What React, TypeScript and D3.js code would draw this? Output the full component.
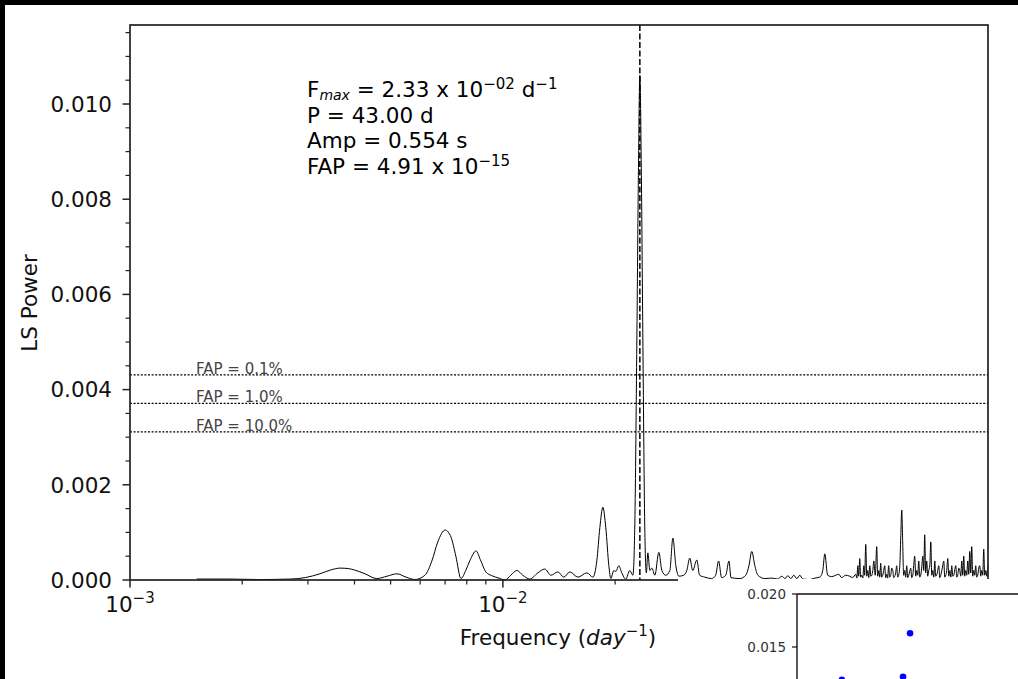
import React from 'react';
import * as d3 from 'd3';

const W = 1018;
const H = 679;

// Lomb-Scargle spectrum: frequency (1/day) and power
const specFreq = [
  0.00151, 0.00185, 0.00223, 0.00269, 0.00295, 0.00323, 0.00345, 0.00366, 0.00385, 0.00400,
  0.00427, 0.00459, 0.00489, 0.00520, 0.00550, 0.00581, 0.00618, 0.00645, 0.00669, 0.00700,
  0.00726, 0.00748, 0.00772, 0.00795, 0.00815, 0.00847, 0.00873, 0.00900, 0.00934, 0.00976,
  0.01012, 0.01050, 0.01090, 0.01131, 0.01181, 0.01241, 0.01296, 0.01345, 0.01404, 0.01457,
  0.01512, 0.01589, 0.01680, 0.01743, 0.01786, 0.01820, 0.01854, 0.01888, 0.01924, 0.01948,
  0.01984, 0.02009, 0.02046, 0.02084, 0.02136, 0.02190, 0.02232, 0.02259, 0.02287, 0.02309,
  0.02330, 0.02352, 0.02374, 0.02403, 0.02425, 0.02448, 0.02478, 0.02509, 0.02556, 0.02620,
  0.02669, 0.02735, 0.02804, 0.02857, 0.02910, 0.02966, 0.03056, 0.03113, 0.03171, 0.03230,
  0.03312, 0.03370, 0.03480, 0.03630, 0.03720, 0.03790, 0.03860, 0.03960, 0.04040, 0.04090,
  0.04320, 0.04480, 0.04570, 0.04650, 0.04740, 0.04830, 0.05040, 0.05260, 0.05460, 0.05600,
  0.05710, 0.05810, 0.05920, 0.06030, 0.06140, 0.06260, 0.06370, 0.06650, 0.06860, 0.07080,
  0.07210, 0.07300, 0.07430, 0.07620, 0.07810, 0.07960, 0.08100, 0.08300, 0.08510, 0.08670,
];
const specPower = [
  0.00002, 0.00002, 0.00001, 0.00002, 0.00005, 0.00013, 0.00021, 0.00025, 0.00024, 0.00021,
  0.00013, 0.00003, 0.00008, 0.00013, 0.00006, 0.00001, 0.00010, 0.00040, 0.00080, 0.00105,
  0.00090, 0.00050, 0.00003, 0.00020, 0.00040, 0.00061, 0.00040, 0.00017, 0.00009, 0.00004,
  0.00000, 0.00010, 0.00020, 0.00010, 0.00002, 0.00015, 0.00023, 0.00010, 0.00017, 0.00006,
  0.00017, 0.00006, 0.00015, 0.00006, 0.00040, 0.00110, 0.00153, 0.00110, 0.00030, 0.00003,
  0.00020, 0.00018, 0.00030, 0.00015, 0.00002, 0.00020, 0.00010, 0.00120, 0.00500, 0.00850,
  0.01060, 0.00850, 0.00500, 0.00100, 0.00015, 0.00057, 0.00020, 0.00025, 0.00010, 0.00058,
  0.00020, 0.00010, 0.00020, 0.00088, 0.00030, 0.00008, 0.00010, 0.00020, 0.00046, 0.00020,
  0.00042, 0.00010, 0.00006, 0.00003, 0.00010, 0.00040, 0.00005, 0.00010, 0.00040, 0.00005,
  0.00003, 0.00010, 0.00030, 0.00060, 0.00030, 0.00010, 0.00003, 0.00004, 0.00002, 0.00008,
  0.00003, 0.00009, 0.00003, 0.00010, 0.00003, 0.00010, 0.00002, 0.00001, 0.00004, 0.00006,
  0.00020, 0.00055, 0.00010, 0.00007, 0.00010, 0.00012, 0.00005, 0.00010, 0.00008, 0.00005,
];

// dense high-frequency part of the spectrum
const hfFreq = [
  0.08840, 0.08900, 0.08950, 0.09000, 0.09060, 0.09110, 0.09170, 0.09230, 0.09290, 0.09340,
  0.09400, 0.09460, 0.09520, 0.09580, 0.09640, 0.09700, 0.09760, 0.09820, 0.09880, 0.09970,
  0.10060, 0.10120, 0.10190, 0.10250, 0.10310, 0.10370, 0.10440, 0.10500, 0.10570, 0.10630,
  0.10700, 0.10760, 0.10830, 0.10900, 0.10970, 0.11040, 0.11110, 0.11170, 0.11240, 0.11310,
  0.11380, 0.11450, 0.11520, 0.11600, 0.11670, 0.11740, 0.11810, 0.11880, 0.11960, 0.12030,
  0.12110, 0.12180, 0.12260, 0.12330, 0.12410, 0.12490, 0.12570, 0.12640, 0.12720, 0.12800,
  0.12880, 0.12960, 0.13040, 0.13120, 0.13200, 0.13280, 0.13370, 0.13450, 0.13530, 0.13610,
  0.13700, 0.13780, 0.13870, 0.13960, 0.14050, 0.14130, 0.14220, 0.14310, 0.14400, 0.14480,
  0.14570, 0.14660, 0.14760, 0.14850, 0.14940, 0.15080, 0.15220, 0.15310, 0.15410, 0.15500,
  0.15600, 0.15700, 0.15800, 0.15900, 0.15990, 0.16090, 0.16190, 0.16290, 0.16390, 0.16490,
  0.16590, 0.16700, 0.16800, 0.16900, 0.17010, 0.17110, 0.17220, 0.17320, 0.17430, 0.17540,
  0.17650, 0.17760, 0.17870, 0.17980, 0.18090, 0.18200, 0.18320, 0.18430, 0.18540, 0.18650,
  0.18770, 0.18890, 0.19010, 0.19120, 0.19240, 0.19360, 0.19480, 0.19600, 0.19730, 0.19850,
  0.19970,
];
const hfPower = [
  0.00012, 0.00004, 0.00030, 0.00008, 0.00045, 0.00006, 0.00010, 0.00004, 0.00030, 0.00010,
  0.00075, 0.00008, 0.00020, 0.00005, 0.00030, 0.00008, 0.00010, 0.00020, 0.00040, 0.00010,
  0.00070, 0.00008, 0.00020, 0.00006, 0.00035, 0.00006, 0.00010, 0.00020, 0.00030, 0.00005,
  0.00012, 0.00004, 0.00030, 0.00006, 0.00010, 0.00025, 0.00020, 0.00005, 0.00008, 0.00015,
  0.00030, 0.00006, 0.00010, 0.00030, 0.00090, 0.00147, 0.00080, 0.00010, 0.00020, 0.00006,
  0.00030, 0.00005, 0.00010, 0.00018, 0.00025, 0.00005, 0.00010, 0.00030, 0.00050, 0.00008,
  0.00020, 0.00010, 0.00040, 0.00006, 0.00010, 0.00025, 0.00050, 0.00020, 0.00095, 0.00015,
  0.00040, 0.00008, 0.00020, 0.00030, 0.00080, 0.00010, 0.00020, 0.00006, 0.00040, 0.00008,
  0.00010, 0.00020, 0.00030, 0.00005, 0.00010, 0.00025, 0.00040, 0.00006, 0.00010, 0.00020,
  0.00045, 0.00008, 0.00020, 0.00006, 0.00030, 0.00008, 0.00010, 0.00022, 0.00030, 0.00006,
  0.00010, 0.00025, 0.00020, 0.00008, 0.00040, 0.00010, 0.00050, 0.00008, 0.00020, 0.00010,
  0.00040, 0.00012, 0.00060, 0.00015, 0.00070, 0.00008, 0.00020, 0.00010, 0.00030, 0.00006,
  0.00010, 0.00025, 0.00030, 0.00008, 0.00020, 0.00010, 0.00065, 0.00010, 0.00020, 0.00008,
  0.00030,
];

const yTicks = [0, 0.002, 0.004, 0.006, 0.008, 0.01];
const yTickLabels = ['0.000', '0.002', '0.004', '0.006', '0.008', '0.010'];
const xMajorExponents = [-3, -2, -1];
const xMajorLabels = ['−3', '−2', '−1'];
const fapLevels = [0.00431, 0.00371, 0.00311];
const fapLabels = ['FAP = 0.1%', 'FAP = 1.0%', 'FAP = 10.0%'];
const peakFreq = 0.0233;

// inset panel (partially visible)
const insetX = [0.102, 0.241, 0.257];
const insetY = [0.0119, 0.0122, 0.0163];
const insetTicks = [0.015, 0.02];
const insetTickLabels = ['0.015', '0.020'];

const FONT = 'DejaVu Sans, sans-serif';

export default function App() {
  const L = 130, T = 25, R = 988, B = 580;
  const x = d3.scaleLog().domain([0.001, 0.2]).range([L, R]);
  const y = d3.scaleLinear().domain([0, 0.01166]).range([B, T]);

  const pts: [number, number][] = specFreq
    .map((f, i) => [f, specPower[i]] as [number, number])
    .concat(hfFreq.map((f, i) => [f, hfPower[i]] as [number, number]));
  const line = d3
    .line<[number, number]>()
    .x((d) => x(d[0]))
    .y((d) => y(d[1]))
    .curve(d3.curveMonotoneX);

  const yMinor: number[] = d3.range(0, 0.0116, 0.0005).filter((v) => Math.abs(v / 0.002 - Math.round(v / 0.002)) > 1e-6);
  const xMinor: number[] = [];
  xMajorExponents.forEach((e) => {
    for (let k = 2; k <= 9; k++) {
      const v = k * Math.pow(10, e);
      if (v <= 0.2) xMinor.push(v);
    }
  });

  const ix = d3.scaleLinear().domain([0, 1]).range([797, 1237]);
  const iy = d3.scaleLinear().domain([0.015, 0.02]).range([647, 594]);

  const fs = 21.5;
  const textX = 307;
  const lineY = [97, 122.5, 148, 173.5];

  return (
    <svg width={W} height={H} style={{ position: 'absolute', left: 0, top: 0, display: 'block' }} fontFamily={FONT}>
      <rect x={0} y={0} width={W} height={H} fill="#000" />
      <rect x={5} y={5} width={W - 5} height={H - 5} fill="#fff" />

      {/* FAP levels */}
      {fapLevels.map((v, i) => (
        <g key={'fap' + i}>
          <line x1={L} x2={R} y1={y(v)} y2={y(v)} stroke="#000" strokeWidth={1.2} strokeDasharray="2,1.6" />
          <text x={196} y={y(v) - 1} fontSize={15} fill="#444">{fapLabels[i]}</text>
        </g>
      ))}

      {/* spectrum */}
      <path d={line(pts) || ''} fill="none" stroke="#000" strokeWidth={1} />

      {/* peak marker */}
      <line x1={x(peakFreq)} x2={x(peakFreq)} y1={T} y2={B} stroke="#000" strokeWidth={1.5} strokeDasharray="6,2.5" />

      {/* frame */}
      <rect x={L} y={T} width={R - L} height={B - T} fill="none" stroke="#222" strokeWidth={1.7} />

      {/* y ticks */}
      {yTicks.map((v, i) => (
        <g key={'yt' + i}>
          <line x1={L - 7.5} x2={L} y1={y(v)} y2={y(v)} stroke="#222" strokeWidth={1.5} />
          <text x={112} y={y(v)} dy="0.36em" textAnchor="end" fontSize={fs} fill="#111">{yTickLabels[i]}</text>
        </g>
      ))}
      {yMinor.map((v, i) => (
        <line key={'ym' + i} x1={L - 4.5} x2={L} y1={y(v)} y2={y(v)} stroke="#222" strokeWidth={1.2} />
      ))}

      {/* x ticks */}
      {xMajorExponents.map((e, i) => {
        const px = x(Math.pow(10, e));
        return (
          <g key={'xt' + i}>
            <line x1={px} x2={px} y1={B} y2={B + 7.5} stroke="#222" strokeWidth={1.5} />
            <text x={px} y={612} textAnchor="middle" fontSize={fs} fill="#111">
              10<tspan dy={-9} fontSize={15}>{xMajorLabels[i]}</tspan>
            </text>
          </g>
        );
      })}
      {xMinor.map((v, i) => (
        <line key={'xm' + i} x1={x(v)} x2={x(v)} y1={B} y2={B + 4.5} stroke="#222" strokeWidth={1.2} />
      ))}

      {/* axis labels */}
      <text x={558} y={645} textAnchor="middle" fontSize={fs} fill="#111">
        Frequency (<tspan fontStyle="italic">day</tspan>
        <tspan dy={-9} fontSize={15}>−1</tspan>
        <tspan dy={9}>)</tspan>
      </text>
      <text transform="translate(37,303) rotate(-90)" textAnchor="middle" fontSize={fs} fill="#111">LS Power</text>

      {/* info text */}
      <text x={textX} y={lineY[0]} fontSize={fs} fill="#000">
        F<tspan dy={3} fontSize={14} fontStyle="italic">max</tspan>
        <tspan dy={-3}> = 2.33 x 10</tspan>
        <tspan dy={-8} fontSize={15}>−02</tspan>
        <tspan dy={8}> d</tspan>
        <tspan dy={-8} fontSize={15}>−1</tspan>
      </text>
      <text x={textX} y={lineY[1]} fontSize={fs} fill="#000">P = 43.00 d</text>
      <text x={textX} y={lineY[2]} fontSize={fs} fill="#000">Amp = 0.554 s</text>
      <text x={textX} y={lineY[3]} fontSize={fs} fill="#000">
        FAP = 4.91 x 10<tspan dy={-8} fontSize={15}>−15</tspan>
      </text>

      {/* inset panel */}
      <rect x={678} y={579} width={W - 678} height={H - 579} fill="#fff" />
      <line x1={797} x2={797} y1={594} y2={H} stroke="#111" strokeWidth={1.4} />
      <line x1={797} x2={W} y1={594} y2={594} stroke="#111" strokeWidth={1.4} />
      {insetTicks.map((v, i) => (
        <g key={'it' + i}>
          <line x1={792} x2={797} y1={iy(v)} y2={iy(v)} stroke="#111" strokeWidth={1.2} />
          <text x={786} y={iy(v)} dy="0.36em" textAnchor="end" fontSize={13.5} fill="#333">{insetTickLabels[i]}</text>
        </g>
      ))}
      {insetX.map((v, i) => (
        <circle key={'ip' + i} cx={ix(v)} cy={iy(insetY[i])} r={3.3} fill="#0000ff" />
      ))}
    </svg>
  );
}
